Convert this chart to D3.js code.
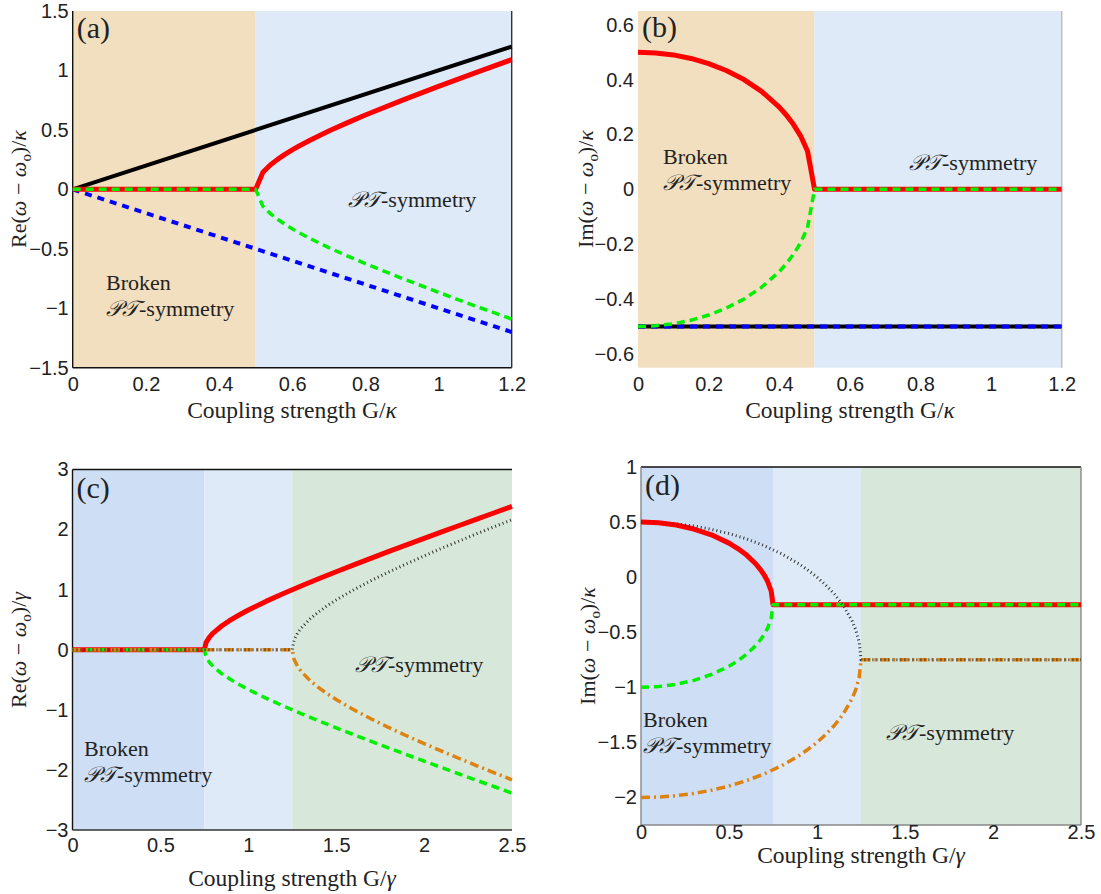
<!DOCTYPE html>
<html>
<head>
<meta charset="utf-8">
<script src="https://cdn.jsdelivr.net/npm/d3@7"></script>
<style>
  html, body { margin: 0; padding: 0; background: #fff; }
  svg { display: block; }
</style>
</head>
<body>
<svg id="fig" width="1101" height="894"></svg>
<script>
// ---------- Panel (a): Re of eigenfrequencies vs G/kappa ----------
const aG       = [0, 0.5, 0.52, 0.54, 0.56, 0.58, 0.6, 0.62, 0.65, 0.7, 0.75, 0.8, 0.9, 1.0, 1.1, 1.2];
const aRedRe   = [0, 0, 0.143, 0.204, 0.252, 0.294, 0.332, 0.367, 0.415, 0.490, 0.559, 0.625, 0.748, 0.866, 0.980, 1.091];
const aGreenRe = [0, 0, -0.143, -0.204, -0.252, -0.294, -0.332, -0.367, -0.415, -0.490, -0.559, -0.625, -0.748, -0.866, -0.980, -1.091];
const aLineG   = [0, 1.2];
const aBlackRe = [0, 1.2];
const aBlueRe  = [0, -1.2];

// ---------- Panel (b): Im of eigenfrequencies vs G/kappa ----------
const bG       = [0, 0.05, 0.1, 0.15, 0.2, 0.25, 0.3, 0.35, 0.4, 0.42, 0.44, 0.46, 0.48, 0.5, 1.2];
const bRedIm   = [0.5, 0.497, 0.490, 0.477, 0.458, 0.433, 0.4, 0.357, 0.3, 0.271, 0.237, 0.196, 0.14, 0, 0];
const bGreenIm = [-0.5, -0.497, -0.490, -0.477, -0.458, -0.433, -0.4, -0.357, -0.3, -0.271, -0.237, -0.196, -0.14, 0, 0];
const bLineG   = [0, 1.2];
const bBlackIm = [-0.5, -0.5];
const bBlueIm  = [-0.5, -0.5];

// ---------- Panel (c): Re of eigenfrequencies vs G/gamma ----------
const cInnerG   = [0, 0.75, 0.76, 0.78, 0.8, 0.85, 0.9, 0.95, 1.0, 1.1, 1.2, 1.3, 1.4, 1.5, 1.6, 1.7, 1.8, 1.9, 2.0, 2.1, 2.2, 2.3, 2.4, 2.5];
const cRedRe    = [0, 0, 0.123, 0.214, 0.278, 0.400, 0.497, 0.583, 0.661, 0.805, 0.937, 1.062, 1.182, 1.299, 1.413, 1.526, 1.636, 1.746, 1.854, 1.962, 2.068, 2.174, 2.280, 2.385];
const cGreenRe  = [0, 0, -0.123, -0.214, -0.278, -0.400, -0.497, -0.583, -0.661, -0.805, -0.937, -1.062, -1.182, -1.299, -1.413, -1.526, -1.636, -1.746, -1.854, -1.962, -2.068, -2.174, -2.280, -2.385];
const cOuterG   = [0, 1.25, 1.26, 1.28, 1.3, 1.35, 1.4, 1.45, 1.5, 1.6, 1.7, 1.8, 1.9, 2.0, 2.1, 2.2, 2.3, 2.4, 2.5];
const cBlackRe  = [0, 0, 0.158, 0.276, 0.357, 0.510, 0.631, 0.735, 0.829, 0.999, 1.152, 1.295, 1.431, 1.561, 1.688, 1.810, 1.931, 2.049, 2.165];
const cOrangeRe = [0, 0, -0.158, -0.276, -0.357, -0.510, -0.631, -0.735, -0.829, -0.999, -1.152, -1.295, -1.431, -1.561, -1.688, -1.810, -1.931, -2.049, -2.165];

// ---------- Panel (d): Im of eigenfrequencies vs G/gamma ----------
const dInnerG   = [0, 0.1, 0.2, 0.3, 0.4, 0.5, 0.55, 0.6, 0.65, 0.68, 0.7, 0.72, 0.74, 0.75, 2.5];
const dRedIm    = [0.5, 0.493, 0.473, 0.437, 0.384, 0.309, 0.26, 0.2, 0.124, 0.066, 0.019, -0.04, -0.128, -0.25, -0.25];
const dGreenIm  = [-1, -0.993, -0.973, -0.937, -0.884, -0.809, -0.76, -0.7, -0.624, -0.566, -0.519, -0.46, -0.372, -0.25, -0.25];
const dOuterG   = [0, 0.1, 0.2, 0.3, 0.4, 0.5, 0.6, 0.7, 0.8, 0.9, 0.95, 1.0, 1.05, 1.1, 1.15, 1.2, 1.22, 1.24, 1.25, 2.5];
const dBlackIm  = [0.5, 0.496, 0.484, 0.464, 0.434, 0.396, 0.347, 0.286, 0.211, 0.118, 0.062, 0, -0.072, -0.156, -0.260, -0.4, -0.478, -0.592, -0.75, -0.75];
const dOrangeIm = [-2, -1.996, -1.984, -1.964, -1.934, -1.896, -1.847, -1.786, -1.711, -1.618, -1.562, -1.5, -1.428, -1.344, -1.240, -1.1, -1.022, -0.908, -0.75, -0.75];

// ---------- Tick values and labels ----------
const aYTicks = [-1.5, -1, -0.5, 0, 0.5, 1, 1.5];
const aYLabels = ["\u22121.5", "\u22121", "\u22120.5", "0", "0.5", "1", "1.5"];
const bYTicks = [-0.6, -0.4, -0.2, 0, 0.2, 0.4, 0.6];
const bYLabels = ["\u22120.6", "\u22120.4", "\u22120.2", "0", "0.2", "0.4", "0.6"];
const kTicks = [0, 0.2, 0.4, 0.6, 0.8, 1, 1.2];
const kLabels = ["0", "0.2", "0.4", "0.6", "0.8", "1", "1.2"];
const cYTicks = [-3, -2, -1, 0, 1, 2, 3];
const cYLabels = ["\u22123", "\u22122", "\u22121", "0", "1", "2", "3"];
const dYTicks = [-2, -1.5, -1, -0.5, 0, 0.5, 1];
const dYLabels = ["\u22122", "\u22121.5", "\u22121", "\u22120.5", "0", "0.5", "1"];
const gTicks = [0, 0.5, 1, 1.5, 2, 2.5];
const gLabels = ["0", "0.5", "1", "1.5", "2", "2.5"];

// ---------- Styles ----------
const SERIF = "'Liberation Serif', 'Times New Roman', serif";
const SANS = "'Liberation Sans', Arial, Helvetica, sans-serif";
const SCRIPT = "'DejaVu Serif', 'DejaVu Sans', 'Noto Sans', serif";
const TAN = "#f2dfbf", LIGHTBLUE = "#deeaf8", MIDBLUE = "#cedff5", PALEGREEN = "#d7e8da";
const styles = {
  red:    { stroke: "#ff0000", width: 5,   dash: null },
  green:  { stroke: "#00f000", width: 3.5, dash: "8,5" },
  blue:   { stroke: "#0000ff", width: 4,   dash: "7,6" },
  black:  { stroke: "#000000", width: 4,   dash: null },
  orange: { stroke: "#de8210", width: 3.5, dash: "9,4,2,4" },
  dotted: { stroke: "#333333", width: 3,   dash: "1,3" }
};

const svg = d3.select("#fig");

function richText(sel, parts, size) {
  parts.forEach(p => {
    const t = sel.append("tspan").text(p.t);
    if (p.it) t.attr("font-style", "italic");
    if (p.sub) t.attr("font-size", size * 0.68).attr("dy", size * 0.22);
    if (p.after) t.attr("dy", -size * 0.22);
    if (p.script) t.attr("font-family", SCRIPT).attr("font-style", "italic");
  });
}

function yTitleParts(kind, denom) {
  return [
    { t: kind + "(" }, { t: "\u03c9", it: true }, { t: " \u2212 " }, { t: "\u03c9", it: true },
    { t: "o", sub: true }, { t: ")/", after: true }, { t: denom, it: true }
  ];
}

function pt(sel, x, y, size) {
  const t = sel.append("text").attr("x", x).attr("y", y)
    .attr("font-family", SERIF).attr("font-size", size).attr("fill", "#222");
  richText(t, [{ t: "\ud835\udcab\ud835\udcaf", script: true }, { t: "-symmetry" }], size);
  return t;
}

function drawPanel(cfg) {
  const x = d3.scaleLinear().domain(cfg.xDomain).range([cfg.left, cfg.right]);
  const y = d3.scaleLinear().domain(cfg.yDomain).range([cfg.bottom, cfg.top]);
  const g = svg.append("g");

  // shaded parameter regions
  cfg.bands.forEach(b => {
    g.append("rect")
      .attr("x", x(b.from)).attr("width", x(b.to) - x(b.from))
      .attr("y", cfg.top).attr("height", cfg.bottom - cfg.top)
      .attr("fill", b.color);
  });

  // frame lines
  const edges = {
    top:    [cfg.left, cfg.top, cfg.right, cfg.top],
    bottom: [cfg.left, cfg.bottom, cfg.right, cfg.bottom],
    left:   [cfg.left, cfg.top, cfg.left, cfg.bottom],
    right:  [cfg.right, cfg.top, cfg.right, cfg.bottom]
  };
  Object.entries(cfg.frame).forEach(([k, col]) => {
    const e = edges[k];
    g.append("line").attr("x1", e[0]).attr("y1", e[1]).attr("x2", e[2]).attr("y2", e[3])
      .attr("stroke", col).attr("stroke-width", 1.4);
  });

  // curves
  const line = d3.line().x(d => x(d[0])).y(d => y(d[1]));
  cfg.series.forEach(s => {
    const st = styles[s.style];
    g.append("path")
      .attr("d", line(s.g.map((v, i) => [v, s.v[i]])))
      .attr("fill", "none")
      .attr("stroke", st.stroke)
      .attr("stroke-width", st.width)
      .attr("stroke-dasharray", st.dash)
      .attr("stroke-linejoin", "round");
  });

  // axes
  const ya = g.append("g").attr("transform", `translate(${cfg.left},0)`)
    .call(d3.axisLeft(y).tickValues(cfg.yTicks).tickFormat((d, i) => cfg.yLabels[i]).tickSize(0).tickPadding(4));
  const xa = g.append("g").attr("transform", `translate(0,${cfg.bottom})`)
    .call(d3.axisBottom(x).tickValues(cfg.xTicks).tickFormat((d, i) => cfg.xLabels[i]).tickSize(0).tickPadding(cfg.xPad));
  [ya, xa].forEach(a => {
    a.select(".domain").remove();
    a.selectAll("text").attr("font-family", SANS).attr("font-size", 20).attr("fill", "#222");
  });

  // panel letter
  g.append("text").attr("x", cfg.left + 4).attr("y", cfg.letterY)
    .attr("font-family", SERIF).attr("font-size", 30).attr("fill", "#222").text(cfg.letter);

  // axis titles
  const yt = g.append("text")
    .attr("transform", `translate(${cfg.yTitle[0]},${cfg.yTitle[1]}) rotate(-90)`)
    .attr("text-anchor", "middle").attr("font-family", SERIF).attr("font-size", 22).attr("fill", "#222");
  richText(yt, yTitleParts(cfg.yKind, cfg.denom), 22);
  const xt = g.append("text").attr("x", cfg.xTitle[0]).attr("y", cfg.xTitle[1])
    .attr("text-anchor", "middle").attr("font-family", SERIF).attr("font-size", 23.5).attr("fill", "#222");
  richText(xt, [{ t: "Coupling strength G/" }, { t: cfg.denomX, it: true }], 23.5);

  // region annotations
  cfg.notes.forEach(n => {
    if (n.kind === "broken") {
      g.append("text").attr("x", n.x).attr("y", n.y).attr("font-family", SERIF)
        .attr("font-size", 22).attr("fill", "#222").text("Broken");
      pt(g, n.x, n.y + 26, 22);
    } else {
      pt(g, n.x, n.y, 22);
    }
  });
}

drawPanel({
  letter: "(a)", letterY: 38,
  left: 72.7, right: 511.7, top: 11, bottom: 367.7,
  xDomain: [0, 1.2], yDomain: [-1.5, 1.5],
  xTicks: kTicks, xLabels: kLabels, yTicks: aYTicks, yLabels: aYLabels, xPad: 9,
  bands: [{ from: 0, to: 0.5, color: TAN }, { from: 0.5, to: 1.2, color: LIGHTBLUE }],
  frame: { left: "#111", bottom: "#111", right: "#333" },
  series: [
    { g: aLineG, v: aBlackRe, style: "black" },
    { g: aLineG, v: aBlueRe, style: "blue" },
    { g: aG, v: aRedRe, style: "red" },
    { g: aG, v: aGreenRe, style: "green" }
  ],
  yKind: "Re", denom: "\u03ba", denomX: "\u03ba",
  yTitle: [26, 189], xTitle: [292, 418],
  notes: [{ kind: "broken", x: 106, y: 290 }, { kind: "pt", x: 348, y: 207 }]
});

drawPanel({
  letter: "(b)", letterY: 37,
  left: 638, right: 1061.7, top: 11, bottom: 367.7,
  xDomain: [0, 1.2], yDomain: [-0.65, 0.65],
  xTicks: kTicks, xLabels: kLabels, yTicks: bYTicks, yLabels: bYLabels, xPad: 9,
  bands: [{ from: 0, to: 0.5, color: TAN }, { from: 0.5, to: 1.2, color: LIGHTBLUE }],
  frame: { right: "#bbb" },
  series: [
    { g: bLineG, v: bBlackIm, style: "black" },
    { g: bLineG, v: bBlueIm, style: "blue" },
    { g: bG, v: bRedIm, style: "red" },
    { g: bG, v: bGreenIm, style: "green" }
  ],
  yKind: "Im", denom: "\u03ba", denomX: "\u03ba",
  yTitle: [593, 189], xTitle: [850, 418],
  notes: [{ kind: "broken", x: 663, y: 164 }, { kind: "pt", x: 909, y: 170 }]
});

drawPanel({
  letter: "(c)", letterY: 498,
  left: 72.5, right: 512, top: 469.5, bottom: 830,
  xDomain: [0, 2.5], yDomain: [-3, 3],
  xTicks: gTicks, xLabels: gLabels, yTicks: cYTicks, yLabels: cYLabels, xPad: 8,
  bands: [{ from: 0, to: 0.75, color: MIDBLUE }, { from: 0.75, to: 1.25, color: LIGHTBLUE }, { from: 1.25, to: 2.5, color: PALEGREEN }],
  frame: { top: "#111", left: "#111", bottom: "#333" },
  series: [
    { g: cInnerG, v: cRedRe, style: "red" },
    { g: cInnerG, v: cGreenRe, style: "green" },
    { g: cOuterG, v: cOrangeRe, style: "orange" },
    { g: cOuterG, v: cBlackRe, style: "dotted" }
  ],
  yKind: "Re", denom: "\u03b3", denomX: "\u03b3",
  yTitle: [26, 650], xTitle: [292, 886],
  notes: [{ kind: "broken", x: 84, y: 756 }, { kind: "pt", x: 355, y: 672 }]
});

drawPanel({
  letter: "(d)", letterY: 495,
  left: 641, right: 1081, top: 467, bottom: 825,
  xDomain: [0, 2.5], yDomain: [-2.25, 1],
  xTicks: gTicks, xLabels: gLabels, yTicks: dYTicks, yLabels: dYLabels, xPad: 0,
  bands: [{ from: 0, to: 0.75, color: MIDBLUE }, { from: 0.75, to: 1.25, color: LIGHTBLUE }, { from: 1.25, to: 2.5, color: PALEGREEN }],
  frame: { top: "#111", left: "#888", bottom: "#888", right: "#888" },
  series: [
    { g: dInnerG, v: dRedIm, style: "red" },
    { g: dInnerG, v: dGreenIm, style: "green" },
    { g: dOuterG, v: dOrangeIm, style: "orange" },
    { g: dOuterG, v: dBlackIm, style: "dotted" }
  ],
  yKind: "Im", denom: "\u03ba", denomX: "\u03b3",
  yTitle: [595, 646], xTitle: [861, 863],
  notes: [{ kind: "broken", x: 643, y: 727 }, { kind: "pt", x: 886, y: 740 }]
});
</script>
</body>
</html>
